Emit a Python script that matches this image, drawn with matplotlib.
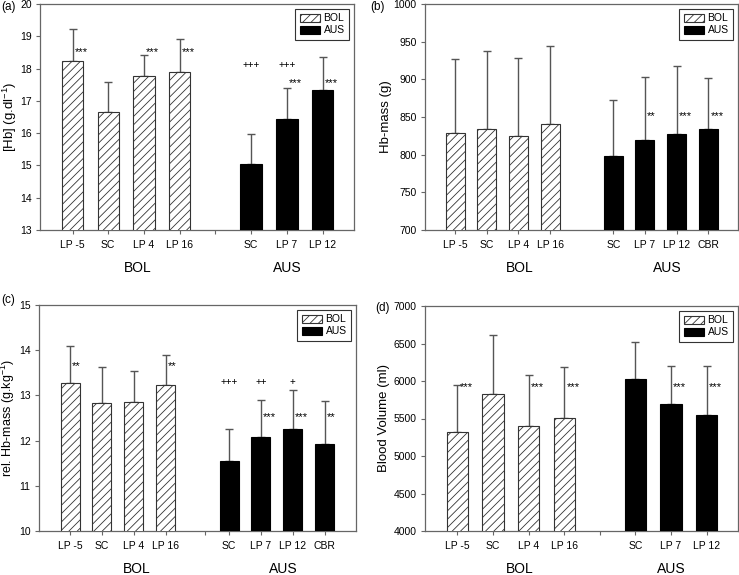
import matplotlib
matplotlib.use('Agg')
import matplotlib.pyplot as plt
import numpy as np

plt.rcParams['font.family'] = ['Liberation Sans', 'DejaVu Sans']
plt.rcParams['mathtext.default'] = 'regular'
plt.rcParams['hatch.linewidth'] = 0.6

# Data
bol_labels = ['LP -5', 'SC', 'LP 4', 'LP 16']
aus_labels_3 = ['SC', 'LP 7', 'LP 12']
aus_labels_4 = ['SC', 'LP 7', 'LP 12', 'CBR']

# (a) [Hb]
hb_bol = [18.24, 16.66, 17.78, 17.89]
hb_bol_sd = [0.99, 0.91, 0.64, 1.02]
hb_aus = [15.05, 16.44, 17.35]
hb_aus_sd = [0.91, 0.97, 1.01]

# (b) Hb-mass
mass_bol = [828.9, 833.8, 824.9, 840.9]
mass_bol_sd = [97.5, 103.2, 103.3, 103.2]
mass_aus = [797.9, 819.2, 827.6, 834.2]
mass_aus_sd = [74.9, 83.7, 89.5, 67.8]

# (c) rel. Hb-mass
rel_bol = [13.27, 12.83, 12.86, 13.24]
rel_bol_sd = [0.83, 0.80, 0.69, 0.65]
rel_aus = [11.54, 12.07, 12.26, 11.93]
rel_aus_sd = [0.72, 0.82, 0.85, 0.95]

# (d) Blood volume
bv_bol = [5317, 5829, 5397, 5513]
bv_bol_sd = [632, 779, 681, 672]
bv_aus = [6029, 5696, 5553]
bv_aus_sd = [494, 507, 650]

# significance marks
sig_a = {'bol': (['***', '', '***', '***'], 18.52),
         'aus_plus': (['+++', '+++', ''], 18.11),
         'aus': (['', '***', '***'], 17.54)}
sig_b = {'aus': (['', '**', '***', '***'], 850.6)}
sig_c = {'bol': (['**', '', '', '**'], 13.64),
         'aus_plus': (['+++', '++', '+', ''], 13.29),
         'aus': (['', '***', '***', '**'], 12.52)}
sig_d = {'bol': (['***', '', '***', '***'], 5918),
         'aus': (['', '***', '***'], 5918)}

W, H = 739, 575
fig = plt.figure(figsize=(W / 100, H / 100), dpi=100)

def px_axes(left, right, top, bottom):
    return fig.add_axes([left / W, 1 - bottom / H, (right - left) / W, (bottom - top) / H])

spine_c = '#666666'
err_c = '#555555'


def draw_panel(ax, bol, bol_sd, aus, aus_sd, aus_labels, sig, ylim, yticks,
               xlim, ylabel, ylab_x, group_x, gap_tick, ylab_size=9.5):
    bx = np.arange(len(bol))
    ax_ = np.arange(len(aus)) + len(bol) + 1
    b1 = ax.bar(bx, bol, width=0.6, bottom=0, facecolor='white', edgecolor='#333333',
                hatch='////', linewidth=0.8, label='BOL', zorder=3)
    b2 = ax.bar(ax_, aus, width=0.6, color='black', edgecolor='black', linewidth=0.8,
                label='AUS', zorder=3)
    for x, v, s in [(bx, bol, bol_sd), (ax_, aus, aus_sd)]:
        ax.errorbar(x, v, yerr=[np.zeros(len(s)), s], fmt='none', ecolor=err_c,
                    elinewidth=1, capsize=2.6, capthick=1, zorder=2)

    for key, (marks, yv) in sig.items():
        xs = bx if key == 'bol' else ax_
        for x, m in zip(xs, marks):
            if not m:
                continue
            if key == 'aus_plus':
                ax.text(x, yv, m, ha='center', va='center', fontsize=7)
            else:
                ax.annotate(m, (x, yv), xytext=(1.5, 0), textcoords='offset points',
                            ha='left', va='center', fontsize=8)

    ax.set_ylim(*ylim)
    ax.set_yticks(yticks)
    ax.set_xlim(*xlim)
    ticks = list(bx) + list(ax_)
    labels = bol_labels + aus_labels
    if gap_tick is not None:
        ticks.append(gap_tick)
        labels.append('')
    ax.set_xticks(ticks)
    ax.set_xticklabels(labels)
    ax.tick_params(direction='out', length=3, width=0.8, color=spine_c,
                   labelsize=7.5, pad=4)
    ax.tick_params(axis='y', pad=3)
    for sp in ax.spines.values():
        sp.set_color(spine_c)
        sp.set_linewidth(0.9)
    ax.set_ylabel(ylabel, fontsize=ylab_size)
    ax.yaxis.set_label_coords(ylab_x, 0.5)

    tr = ax.get_xaxis_transform()
    ax.text(group_x[0], -0.168, 'BOL', transform=tr, ha='center', va='center', fontsize=10)
    ax.text(group_x[1], -0.168, 'AUS', transform=tr, ha='center', va='center', fontsize=10)

    leg = ax.legend([b1, b2], ['BOL', 'AUS'], loc='upper right', fontsize=7.5,
                    frameon=True, fancybox=False, framealpha=1, edgecolor='#333333',
                    handlelength=1.9, handleheight=0.75, handletextpad=0.35,
                    labelspacing=0.2, borderpad=0.45, borderaxespad=0.45)
    leg.get_frame().set_linewidth(0.8)


ax_a = px_axes(40, 354, 4, 230)
draw_panel(ax_a, hb_bol, hb_bol_sd, hb_aus, hb_aus_sd, aus_labels_3, sig_a,
           (13, 20), np.arange(13, 21, 1), (-0.91, 7.88),
           '[Hb] (g.dl$^{-1}$)', -0.066, (1.83, 6.0), 4)

ax_b = px_axes(425, 738, 4, 230)
draw_panel(ax_b, mass_bol, mass_bol_sd, mass_aus, mass_aus_sd, aus_labels_4, sig_b,
           (700, 1000), np.arange(700, 1001, 50), (-0.95, 8.94),
           'Hb-mass (g)', -0.105, (2.05, 6.7), None)

ax_c = px_axes(39, 356, 305, 531)
draw_panel(ax_c, rel_bol, rel_bol_sd, rel_aus, rel_aus_sd, aus_labels_4, sig_c,
           (10, 15), np.arange(10, 16, 1), (-0.98, 8.99),
           'rel. Hb-mass (g.kg$^{-1}$)', -0.07, (2.1, 6.7), 4.25, ylab_size=9)

ax_d = px_axes(425, 738, 306, 531)
draw_panel(ax_d, bv_bol, bv_bol_sd, bv_aus, bv_aus_sd, aus_labels_3, sig_d,
           (4000, 7000), np.arange(4000, 7001, 500), (-0.91, 7.88),
           'Blood Volume (ml)', -0.112, (1.76, 6.0), 4)

for lab, x, y in [('(a)', 1, 7), ('(b)', 370, 7), ('(c)', 1, 300), ('(d)', 375, 308)]:
    fig.text(x / W, 1 - y / H, lab, ha='left', va='center', fontsize=8.5)

fig.savefig('out.png', dpi=100)
